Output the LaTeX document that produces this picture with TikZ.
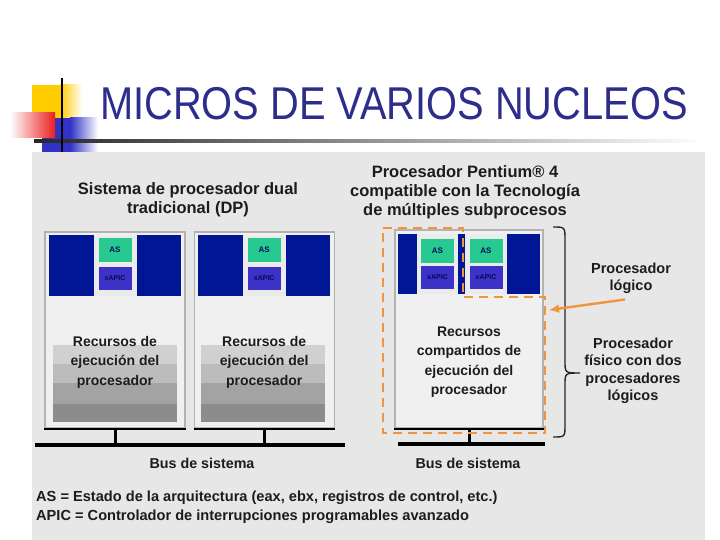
\documentclass[tikz,border=0pt]{standalone}
\usepackage{fontspec}
\setmainfont{Liberation Sans}
\usepackage{tikz}
\usetikzlibrary{positioning,calc,arrows.meta}

\definecolor{titleblue}{RGB}{45,45,140}
\definecolor{panel}{RGB}{231,231,231}
\definecolor{navy}{RGB}{0,22,150}
\definecolor{asgreen}{RGB}{40,200,145}
\definecolor{apicblue}{RGB}{60,50,200}
\definecolor{naranja}{RGB}{236,150,62}
\definecolor{texto}{RGB}{28,28,28}
\definecolor{logoyellow}{RGB}{255,204,0}
\definecolor{logoblue}{RGB}{50,50,200}
\definecolor{logored}{RGB}{235,30,30}
\definecolor{bandA}{RGB}{208,208,208}
\definecolor{bandB}{RGB}{188,188,188}
\definecolor{bandC}{RGB}{163,163,163}
\definecolor{bandD}{RGB}{140,140,140}

\begin{document}
\begin{tikzpicture}[x=1pt,y=-1pt,
                    CPU/.style={rectangle, draw=black!30, fill=black!6, line width=1.2, minimum width=140, minimum height=196, inner sep=0},
                    CAB/.style={rectangle, fill=navy, minimum width=132, minimum height=61, inner sep=0},
                    HUECO/.style={rectangle, fill=white!92!black, minimum width=43, minimum height=61, inner sep=0},
                    AS/.style={rectangle, fill=asgreen, minimum width=33, minimum height=24, inner sep=0, text=navy!60!black, font=\bfseries\fontsize{8}{8}\selectfont},
                    APIC/.style={rectangle, fill=apicblue, minimum width=33, minimum height=23, inner sep=0, text=navy!50!black, font=\bfseries\fontsize{7}{7}\selectfont},
                    TXT/.style={align=center, text=texto, inner sep=0, font=\bfseries\fontsize{16.5}{19}\selectfont},
                    RES/.style={align=center, text=texto, inner sep=0, font=\bfseries\fontsize{14}{19.5}\selectfont},
                    LEY/.style={anchor=west, text=texto, inner sep=0, font=\bfseries\fontsize{14.6}{15}\selectfont},
                    BUS/.style={line width=4.5, black},
                    LOGICO/.style={naranja, line width=2.6, dash pattern=on 9pt off 6pt},
                ]
                \useasboundingbox (0,0) rectangle (720,540);
                \fill[white] (0,0) rectangle (720,540);

                % logotipo
                \fill[logoyellow] (32,85) rectangle (60,118);
                \shade[left color=logoyellow, right color=white] (60,85) rectangle (82,118);
                \fill[logoblue] (42,118) rectangle (70,152);
                \shade[left color=logoblue, right color=white] (70,118) rectangle (98,152);
                \shade[left color=white, right color=logored] (10,113) rectangle (55,138);
                \shade[left color=black!85, right color=white] (34,140) rectangle (705,142.5);
                \draw[line width=2] (62,78) -- (62,152);

                \node[anchor=west, inner sep=0, text=titleblue, font=\fontsize{46}{46}\selectfont] (titulo) at (100,103.5) {\scalebox{0.865}[1]{MICROS DE VARIOS NUCLEOS}};

                \fill[panel] (32,152) rectangle (705,540);

                % sistema DP
                \node[TXT] (tituloDP) at (188,200) {Sistema de procesador dual\\tradicional (DP)};

                \node[CPU]    (cpuA)  at (115,330)            {};
                \node[CPU]    (cpuB)  [right=8pt of cpuA]    {};
                \draw[line width=2] (cpuA.south west) -- (cpuA.south east);
                \draw[line width=2] (cpuB.south west) -- (cpuB.south east);

                \foreach \c in {A,B}{
                    \node[CAB]   (cab\c)   [below=3pt of cpu\c.north]   {};
                    \node[HUECO] (hueco\c) at (cab\c)                  {};
                    \node[AS]    (as\c)    [below=3pt of hueco\c.north] {AS};
                    \node[APIC]  (apic\c)  [below=5pt of as\c]          {xAPIC};
                }

                % recursos (bandas de gris)
                \foreach \xa/\xb in {53/177, 201/325, 402/527}{
                    \fill[bandA] (\xa,345) rectangle (\xb,364);
                    \fill[bandB] (\xa,364) rectangle (\xb,383);
                    \fill[bandC] (\xa,383) rectangle (\xb,404);
                    \fill[bandD] (\xa,404) rectangle (\xb,422);
                }
                \node[RES] (recA) at (cpuA |- 0,362) {Recursos de\\ejecución del\\procesador};
                \node[RES] (recB) at (cpuB |- 0,362) {Recursos de\\ejecución del\\procesador};

                \coordinate (busA1) at (35,445);
                \coordinate (busA2) at (345,445);
                \draw[BUS] (busA1) -- (busA2);
                \draw[line width=3] (cpuA.south) -- (cpuA.south |- busA1);
                \draw[line width=3] (cpuB.south) -- (cpuB.south |- busA1);
                \node[TXT, font=\bfseries\fontsize{14.3}{16}\selectfont] (busDP) at (202,463) {Bus de sistema};

                % Pentium 4 con HT
                \node[TXT] (tituloHT) at (465,192) {Procesador Pentium® 4\\compatible con la Tecnología\\de múltiples subprocesos};

                \node[CPU, minimum width=148, minimum height=198] (cpuC) at (469,329) {};
                \draw[line width=2] (cpuC.south west) -- (cpuC.south east);
                \node[CAB, minimum width=142, minimum height=60] (cabC) [below=4pt of cpuC.north] {};
                \node[HUECO, minimum width=41, minimum height=60] (huecoC1) [xshift=-31.5pt] at (cabC) {};
                \node[HUECO, minimum width=42, minimum height=60] (huecoC2) [xshift=17pt] at (cabC) {};
                \foreach \h in {1,2}{
                    \node[AS]   (asC\h)   [below=5pt of huecoC\h.north] {AS};
                    \node[APIC] (apicC\h) [below=3pt of asC\h]          {xAPIC};
                }
                \node[RES] (recC) at (cpuC |- 0,362) {Recursos\\compartidos de\\ejecución del\\procesador};

                \coordinate (busC1) at (398,444);
                \coordinate (busC2) at (545,444);
                \draw[BUS] (busC1) -- (busC2);
                \draw[line width=3] (cpuC.south) -- (cpuC.south |- busC1);
                \node[TXT, font=\bfseries\fontsize{14.3}{16}\selectfont] (busHT) at (468,463) {Bus de sistema};

                % procesador logico (linea naranja)
                \draw[LOGICO] (383,228) -- (463,228) -- (463,297) -- (545,297) -- (545,433) -- (383,433) -- cycle;

                % llave
                \draw[line width=1.4, black!85] (553,227) .. controls (565,227) .. (565,240) -- (565,361)
                      .. controls (565,373) .. (580,373) .. controls (565,373) .. (565,385) -- (565,425)
                      .. controls (565,437) .. (553,437);

                \node[TXT, font=\bfseries\fontsize{14.5}{17}\selectfont] (logico) at (631,278) {Procesador\\lógico};
                \node[TXT, font=\bfseries\fontsize{14.5}{17.5}\selectfont] (fisico) at (633,371) {Procesador\\físico con dos\\procesadores\\lógicos};
                \coordinate (puntaL) at (549,310);
                \draw[naranja, line width=2.4, -{Latex[length=10,width=9]}] ([xshift=-6pt,yshift=-6pt]logico.south) -- (puntaL);

                % leyenda
                \node[LEY] (leyAS)   at (36,498) {AS = Estado de la arquitectura (eax, ebx, registros de control, etc.)};
                \node[LEY] (leyAPIC) at (36,517) {APIC = Controlador de interrupciones programables avanzado};

            \end{tikzpicture}
\end{document}
